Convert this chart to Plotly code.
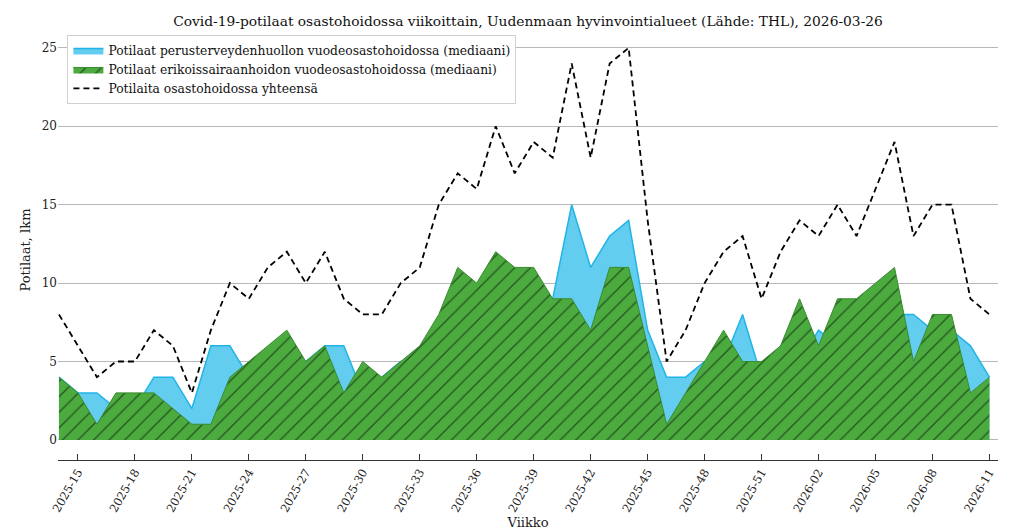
import plotly.graph_objects as go

weeks = [f"2025-{w:02d}" for w in range(14, 53)] + [f"2026-{w:02d}" for w in range(1, 12)]

primary_care = [4, 3, 3, 2, 2, 4, 4, 2, 6, 6, 4, 5, 5, 5, 6, 6, 3, 4, 5, 5, 7, 6, 6, 8, 6,
                 8, 9, 15, 11, 13, 14, 7, 4, 4, 5, 5, 8, 4, 6, 5, 7, 6, 4, 6, 8, 8, 7, 7, 6, 4]
specialty_care = [4, 3, 1, 3, 3, 3, 2, 1, 1, 4, 5, 6, 7, 5, 6, 3, 5, 4, 5, 6, 8, 11, 10, 12, 11,
                  11, 9, 9, 7, 11, 11, 6, 1, 3, 5, 7, 5, 5, 6, 9, 6, 9, 9, 10, 11, 5, 8, 8, 3, 4]
total = [8, 6, 4, 5, 5, 7, 6, 3, 7, 10, 9, 11, 12, 10, 12, 9, 8, 8, 10, 11, 15, 17, 16, 20, 17,
         19, 18, 24, 18, 24, 25, 14, 5, 7, 10, 12, 13, 9, 12, 14, 13, 15, 13, 16, 19, 13, 15, 15, 9, 8]

tick_labels = weeks[1::3]

title = "Covid-19-potilaat osastohoidossa viikoittain, Uudenmaan hyvinvointialueet (Lähde: THL), 2026-03-26"
font_family = "DejaVu Serif"

fig = go.Figure()

fig.add_trace(go.Scatter(
    x=weeks, y=primary_care, mode="lines", fill="tozeroy",
    name="Potilaat perusterveydenhuollon vuodeosastohoidossa (mediaani)",
    line=dict(color="#22b4e6", width=1.5),
    fillcolor="#62cdef",
))
fig.add_trace(go.Scatter(
    x=weeks, y=specialty_care, mode="lines", fill="tozeroy",
    name="Potilaat erikoissairaanhoidon vuodeosastohoidossa (mediaani)",
    line=dict(color="#3a8a30", width=1),
    fillcolor="#4bab3f",
    fillpattern=dict(shape="/", bgcolor="#4bab3f", fgcolor="black", size=11, solidity=0.12),
))
fig.add_trace(go.Scatter(
    x=weeks, y=total, mode="lines",
    name="Potilaita osastohoidossa yhteensä",
    line=dict(color="black", width=1.8, dash="6px,4px"),
))

# page body has an 8px margin, so the figure is a bit smaller than the window
fig.update_layout(
    width=1015, height=523,
    margin=dict(l=50, r=25, t=32, b=71),
    paper_bgcolor="white", plot_bgcolor="white",
    font=dict(family=font_family, size=12, color="#222"),
    title=dict(text=title, xref="paper", x=0.5, xanchor="center", y=0.985, yanchor="top",
               font=dict(family=font_family, size=13.8, color="#111")),
    showlegend=True,
    legend=dict(x=0.01, y=1.012, xanchor="left", yanchor="top",
                bgcolor="white", bordercolor="#d0d0d0", borderwidth=1,
                font=dict(family=font_family, size=12.3, color="#111"),
                tracegroupgap=0, itemwidth=30),
)

fig.update_xaxes(
    type="category", range=[-0.05, 49.45], automargin=False,
    tickmode="array", tickvals=tick_labels, ticktext=tick_labels,
    tickangle=-60, ticks="inside", ticklen=6, tickcolor="#333",
    showline=True, linecolor="#333", linewidth=1,
    showgrid=False, zeroline=False,
    title=dict(text="Viikko", font=dict(size=13), standoff=2),
    tickfont=dict(size=11.5),
)
fig.update_yaxes(
    range=[-1.28, 25.5], tickvals=[0, 5, 10, 15, 20, 25], automargin=False,
    showgrid=True, gridcolor="#b8b8b8", gridwidth=1,
    zeroline=False, showline=False, ticks="",
    title=dict(text="Potilaat, lkm", font=dict(size=13), standoff=8),
    tickfont=dict(size=12),
)

fig.write_html("out.html")
